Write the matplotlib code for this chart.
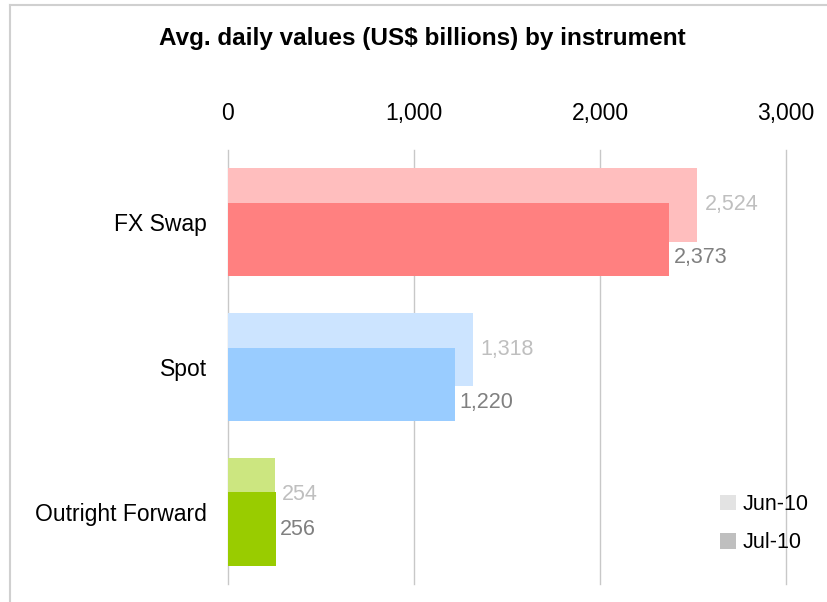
import matplotlib.pyplot as plt
from matplotlib.patches import Patch
from matplotlib.lines import Line2D
import numpy as np

plt.rcParams['font.family'] = ['Liberation Sans', 'DejaVu Sans']

categories = ["FX Swap", "Spot", "Outright Forward"]
jun_vals = [2524, 1318, 254]
jul_vals = [2373, 1220, 256]
jun_colors = ["#FFBEBE", "#CCE4FF", "#CCE680"]
jul_colors = ["#FF8080", "#99CCFF", "#99CC00"]
ticks = [0, 1000, 2000, 3000]
tick_labels = ["0", "1,000", "2,000", "3,000"]

fig = plt.figure(figsize=(8.28, 6.02), dpi=100)
ax = fig.add_axes([228 / 828, 1 - 584 / 602, 558 / 828, 434 / 602])

# chart border: only top and left edges are in the picture
fig.add_artist(Line2D([10 / 828, 10 / 828], [0, 1 - 5 / 602], transform=fig.transFigure,
                      color="#D0D0D0", linewidth=1.5))
fig.add_artist(Line2D([10 / 828, 1], [1 - 5 / 602, 1 - 5 / 602], transform=fig.transFigure,
                      color="#D0D0D0", linewidth=1.5))

y = np.arange(len(categories))
off = 0.12
h = 0.505

ax.barh(y - off, jun_vals, height=h, color=jun_colors, zorder=2)
ax.barh(y + off, jul_vals, height=h, color=jul_colors, zorder=3)

for i in range(len(categories)):
    ax.annotate(f"{jun_vals[i]:,}", (jun_vals[i], y[i] - off), xytext=(5, 0),
                textcoords="offset points", va="center", ha="left",
                fontsize=15.5, color="#BFBFBF")
    # push the Jul label below the Jun bar when the Jun bar is longer
    dy = -13 if jun_vals[i] > jul_vals[i] else 0
    ax.annotate(f"{jul_vals[i]:,}", (jul_vals[i], y[i] + off), xytext=(3, dy),
                textcoords="offset points", va="center", ha="left",
                fontsize=15.5, color="#808080")

ax.set_xlim(0, 3000)
ax.set_ylim(2.5, -0.5)
ax.set_yticks(y)
ax.set_yticklabels(categories, fontsize=16.5)
ax.set_xticks(ticks)
ax.set_xticklabels(tick_labels, fontsize=16.5)
ax.xaxis.tick_top()
ax.tick_params(axis="x", length=0, pad=18)
ax.tick_params(axis="y", length=0, pad=15)
ax.grid(axis="x", color="#C8C8C8", linewidth=1, zorder=0)
for gl in ax.get_xgridlines():
    gl.set_clip_on(False)
ax.set_axisbelow(True)
for s in ax.spines.values():
    s.set_visible(False)

fig.text(422 / 828, 1 - 39 / 602, "Avg. daily values (US$ billions) by instrument",
         ha="center", va="center", fontsize=17.5, fontweight="bold")

handles = [Patch(facecolor="#E3E3E3", label="Jun-10"),
           Patch(facecolor="#BFBFBF", label="Jul-10")]
ax.legend(handles=handles, loc="lower right", bbox_to_anchor=(819 / 828, 1 - 564 / 602),
          bbox_transform=fig.transFigure, frameon=False, fontsize=15.5,
          handlelength=0.75, handleheight=0.75, handletextpad=0.3, labelspacing=0.8,
          borderpad=0)

fig.savefig("out.png", dpi=100)
